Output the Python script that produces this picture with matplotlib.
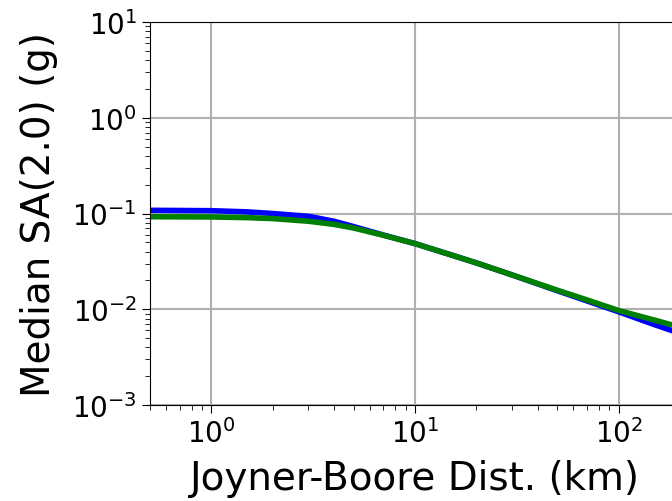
import matplotlib
matplotlib.use("Agg")
import matplotlib.pyplot as plt

# Median SA(2.0) versus Joyner-Boore distance for two models
dist_km = [0.5, 1, 1.5, 2, 3, 4, 5, 7, 10, 15, 20, 30, 50, 70, 100, 150, 200]
sa_blue = [0.108, 0.107, 0.104, 0.100, 0.0935, 0.083, 0.073, 0.0595, 0.0485, 0.037,
           0.0305, 0.0228, 0.0156, 0.0122, 0.0094, 0.0069, 0.0056]
sa_green = [0.0925, 0.0920, 0.0905, 0.0885, 0.0830, 0.0770, 0.0705, 0.0592, 0.0485, 0.037,
            0.0305, 0.0228, 0.0158, 0.0125, 0.0097, 0.0077, 0.0065]

fig = plt.figure(figsize=(6.72, 5.02), dpi=100)
# right spine sits just past the canvas edge
ax = fig.add_axes([150 / 672, 96 / 502, 530 / 672, 383 / 502])

ax.loglog(dist_km, sa_blue, color="blue", lw=4)
ax.loglog(dist_km, sa_green, color="green", lw=4)

ax.set_xlim(0.5, 200)
ax.set_ylim(1e-3, 1e1)
ax.grid(True, which="major", color="#b0b0b0", lw=1.5)
ax.tick_params(axis="both", which="major", labelsize=20, length=6)
ax.tick_params(axis="both", which="minor", length=3.5)
ax.set_xlabel("Joyner-Boore Dist. (km)", fontsize=28, labelpad=8)
ax.set_ylabel("Median SA(2.0) (g)", fontsize=28, labelpad=10)

fig.savefig("out.png", dpi=100)
